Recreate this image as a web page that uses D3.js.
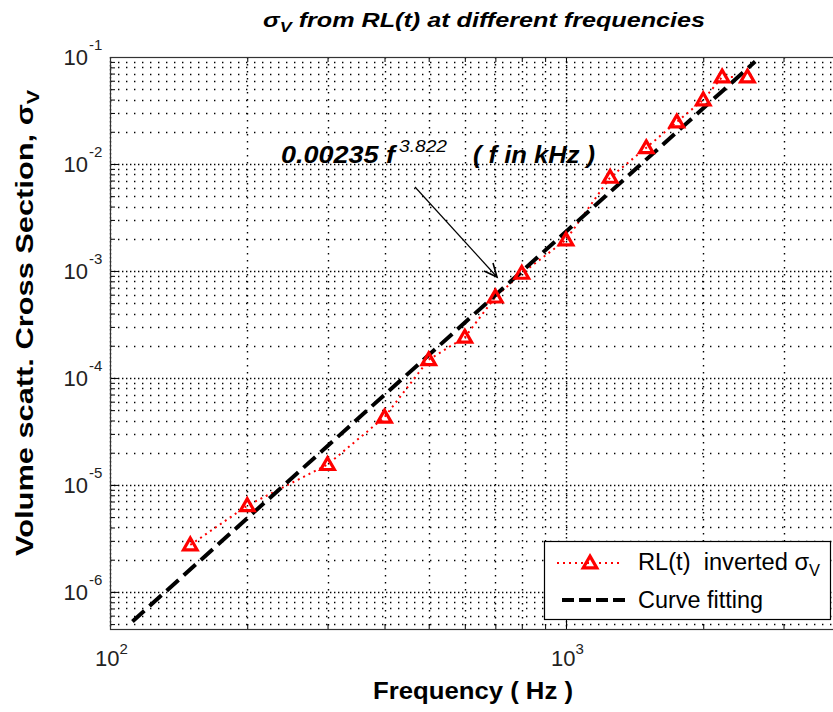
<!DOCTYPE html>
<html>
<head>
<meta charset="utf-8">
<script src="https://cdn.jsdelivr.net/npm/d3@7"></script>
<style>
  body { margin: 0; background: #fff; }
  svg { display: block; font-family: "Liberation Sans", Arial, Helvetica, sans-serif; }
</style>
</head>
<body>
<div id="chart"></div>
<script>
// Measured data: RL(t) inverted sigma_V at each frequency (Hz).
var freqs = [150, 200, 300, 400, 500, 600, 700, 800, 1000, 1250, 1500, 1750, 2000, 2200, 2500];
var sigmaV = [2.75e-6, 6.4e-6, 1.55e-5, 4.3e-5, 1.48e-4, 2.4e-4, 5.7e-4, 9.5e-4,
              1.95e-3, 7.5e-3, 1.42e-2, 2.47e-2, 3.97e-2, 6.5e-2, 6.5e-2];

// Curve fitting end points (straight in log-log).
var fitFreqs = [112, 2600];
var fitSigma = [5.3e-7, 0.0906];

var xDecades = [100, 1000];
var yDecades = [1e-6, 1e-5, 1e-4, 1e-3, 1e-2, 1e-1];

var width = 833, height = 712;
var m = { left: 110, top: 57, right: 840.5, bottom: 629 };

var svg = d3.select("#chart").append("svg")
    .attr("width", width)
    .attr("height", height);

var x = d3.scaleLog().domain([100, 4000]).range([m.left, m.right]);
var y = d3.scaleLog().domain([4.5e-7, 0.1]).range([m.bottom, m.top]);

// minor tick values
var xMinor = [];
[100, 1000].forEach(function(d) {
  for (var k = 1; k < 10; k++) if (d * k <= 4000) xMinor.push(d * k);
});
var yMinor = [];
[1e-7, 1e-6, 1e-5, 1e-4, 1e-3, 1e-2].forEach(function(d) {
  for (var k = 1; k < 10; k++) {
    var v = d * k;
    if (v >= 4.5e-7 && v <= 0.1) yMinor.push(v);
  }
});

// grid
var grid = svg.append("g").attr("stroke", "#000").attr("stroke-width", 1.4);
grid.selectAll(".vg").data(xMinor).enter().append("line")
    .attr("x1", function(d) { return Math.round(x(d)) + 0.5; })
    .attr("x2", function(d) { return Math.round(x(d)) + 0.5; })
    .attr("y1", m.top).attr("y2", m.bottom)
    .attr("stroke-dasharray", function(d) { return xDecades.indexOf(d) >= 0 ? "1.4,2.6" : "1.4,5.6"; });
grid.selectAll(".hg").data(yMinor).enter().append("line")
    .attr("y1", function(d) { return Math.round(y(d)) + 0.5; })
    .attr("y2", function(d) { return Math.round(y(d)) + 0.5; })
    .attr("x1", m.left).attr("x2", m.right)
    .attr("stroke-dasharray", function(d) {
      return yDecades.some(function(v) { return Math.abs(v - d) / v < 1e-6; }) ? "1.4,2.6" : "1.4,6.6";
    });

// axes (inward ticks)
function drawAxis(gen, tx, ty) {
  var g = svg.append("g").attr("transform", "translate(" + tx + "," + ty + ")").call(gen);
  g.selectAll("line").attr("stroke", "#000");
  g.select(".domain").remove();
  return g;
}
drawAxis(d3.axisBottom(x).tickValues(xMinor).tickSize(-5).tickFormat(""), 0, m.bottom);
drawAxis(d3.axisTop(x).tickValues(xMinor).tickSize(-5).tickFormat(""), 0, m.top);
drawAxis(d3.axisLeft(y).tickValues(yMinor).tickSize(-5).tickFormat(""), m.left, 0);
drawAxis(d3.axisBottom(x).tickValues(xDecades).tickSize(-9).tickFormat(""), 0, m.bottom);
drawAxis(d3.axisLeft(y).tickValues(yDecades).tickSize(-9).tickFormat(""), m.left, 0);

// box
svg.append("rect")
    .attr("x", m.left + 0.5).attr("y", m.top + 0.5)
    .attr("width", m.right - m.left).attr("height", m.bottom - m.top)
    .attr("fill", "none").attr("stroke", "#333").attr("stroke-width", 1.2);

// tick labels 10^n
var xl = svg.append("g").selectAll("text").data(xDecades).enter().append("text")
    .attr("x", function(d) { return x(d) - 15; })
    .attr("y", 666)
    .attr("font-size", 22).attr("fill", "#222");
xl.append("tspan").text("10");
xl.append("tspan").attr("dy", -12).attr("font-size", 15)
    .text(function(d) { return Math.round(Math.log10(d)); });

svg.append("g").selectAll("text").data(yDecades).enter().append("text")
    .attr("x", 88)
    .attr("y", function(d) { return y(d) + 8; })
    .attr("text-anchor", "end")
    .attr("font-size", 22).attr("fill", "#222")
    .text("10");
svg.append("g").selectAll("text").data(yDecades).enter().append("text")
    .attr("x", 89)
    .attr("y", function(d) { return y(d) - 7; })
    .attr("font-size", 15).attr("fill", "#222")
    .text(function(d) { return Math.round(Math.log10(d)); });

// lines
var line = d3.line()
    .x(function(d) { return x(d[0]); })
    .y(function(d) { return y(d[1]); });

svg.append("path")
    .datum(d3.zip(freqs, sigmaV))
    .attr("d", line)
    .attr("fill", "none")
    .attr("stroke", "#f00")
    .attr("stroke-width", 2)
    .attr("stroke-dasharray", "2,4");

svg.append("path")
    .datum(d3.zip(fitFreqs, fitSigma))
    .attr("d", line)
    .attr("fill", "none")
    .attr("stroke", "#000")
    .attr("stroke-width", 4)
    .attr("stroke-dasharray", "16,7");

var tri = d3.symbol().type(d3.symbolTriangle).size(80);
svg.append("g").selectAll("path").data(d3.zip(freqs, sigmaV)).enter().append("path")
    .attr("d", tri)
    .attr("transform", function(d) { return "translate(" + x(d[0]) + "," + (y(d[1]) + 1) + ")"; })
    .attr("fill", "none")
    .attr("stroke", "#f00")
    .attr("stroke-width", 3.2);

// annotation
svg.append("text")
    .attr("x", 281).attr("y", 163)
    .attr("font-size", 24).attr("font-weight", "bold").attr("font-style", "italic")
    .attr("textLength", 114).attr("lengthAdjust", "spacingAndGlyphs")
    .text("0.00235 f");
svg.append("text")
    .attr("x", 399).attr("y", 152)
    .attr("font-size", 16).attr("font-style", "italic")
    .attr("textLength", 48).attr("lengthAdjust", "spacingAndGlyphs")
    .text("3.822");
svg.append("text")
    .attr("x", 473).attr("y", 163)
    .attr("font-size", 24).attr("font-weight", "bold").attr("font-style", "italic")
    .attr("xml:space", "preserve")
    .attr("textLength", 122).attr("lengthAdjust", "spacingAndGlyphs")
    .text("( f in kHz )");

svg.append("line")
    .attr("x1", 415).attr("y1", 187).attr("x2", 497).attr("y2", 277)
    .attr("stroke", "#000").attr("stroke-width", 1.2);
svg.append("path")
    .attr("d", "M484,271 L497,277 L493,263")
    .attr("fill", "none").attr("stroke", "#000").attr("stroke-width", 1.6);

// title and labels
var title = svg.append("text")
    .attr("x", 263).attr("y", 27)
    .attr("font-size", 21).attr("font-weight", "bold").attr("font-style", "italic")
    .attr("textLength", 442).attr("lengthAdjust", "spacingAndGlyphs");
title.append("tspan").text("σ");
title.append("tspan").attr("dy", 5).attr("font-size", 15).text("V");
title.append("tspan").attr("dy", -5).text(" from RL(t) at different frequencies");

svg.append("text")
    .attr("x", 373).attr("y", 699)
    .attr("font-size", 24).attr("font-weight", "bold")
    .attr("textLength", 200).attr("lengthAdjust", "spacingAndGlyphs")
    .text("Frequency ( Hz )");

var ylab = svg.append("text")
    .attr("transform", "translate(33,556) rotate(-90)")
    .attr("font-size", 23).attr("font-weight", "bold")
    .attr("textLength", 466).attr("lengthAdjust", "spacingAndGlyphs");
ylab.append("tspan").text("Volume scatt. Cross Section, σ");
ylab.append("tspan").attr("dy", 6).attr("font-size", 16).text("V");

// legend
var lg = svg.append("g");
lg.append("rect")
    .attr("x", 544.5).attr("y", 541.5).attr("width", 286).attr("height", 78)
    .attr("fill", "#fff").attr("stroke", "#000").attr("stroke-width", 1.2);
lg.append("line")
    .attr("x1", 557).attr("x2", 622).attr("y1", 563).attr("y2", 563)
    .attr("stroke", "#f00").attr("stroke-width", 2).attr("stroke-dasharray", "2,4");
lg.append("path")
    .attr("d", tri)
    .attr("transform", "translate(590,564)")
    .attr("fill", "none").attr("stroke", "#f00").attr("stroke-width", 3.2);
var l1 = lg.append("text")
    .attr("x", 638).attr("y", 570).attr("font-size", 23)
    .attr("xml:space", "preserve")
    .attr("textLength", 182).attr("lengthAdjust", "spacingAndGlyphs");
l1.append("tspan").text("RL(t)  inverted σ");
l1.append("tspan").attr("dy", 6).attr("font-size", 16).text("V");
lg.append("line")
    .attr("x1", 562).attr("x2", 627).attr("y1", 600).attr("y2", 600)
    .attr("stroke", "#000").attr("stroke-width", 4).attr("stroke-dasharray", "12,5");
lg.append("text")
    .attr("x", 638).attr("y", 608).attr("font-size", 23)
    .attr("textLength", 125).attr("lengthAdjust", "spacingAndGlyphs")
    .text("Curve fitting");
</script>
</body>
</html>
